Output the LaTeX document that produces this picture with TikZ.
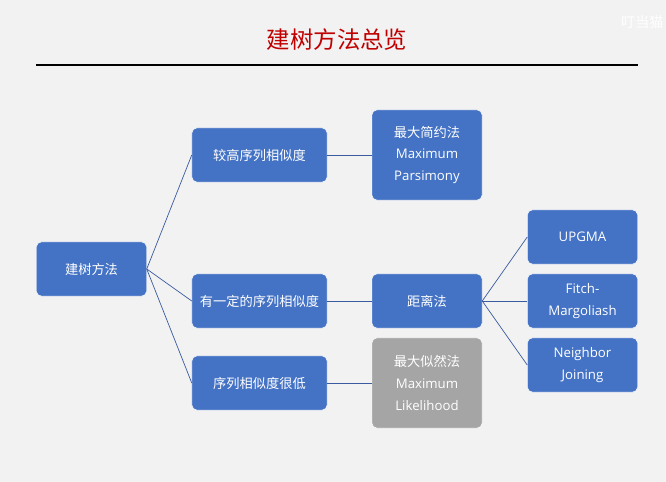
\documentclass[tikz,border=0pt]{standalone}
\usepackage{fontspec}
\setmainfont{Open Sans}
\newfontfamily\cjk{Noto Sans CJK SC}
\definecolor{boxblue}{HTML}{4472C4}
\definecolor{boxgray}{HTML}{A5A5A5}
\definecolor{linkblue}{HTML}{3A5BA0}
\definecolor{titlered}{HTML}{C00000}
\definecolor{pagebg}{HTML}{F2F2F2}

\begin{document}
\begin{tikzpicture}[
        x=0.03cm, y=-0.03cm,
        boxnode/.style={
            rectangle,
            rounded corners=4pt,
            fill=boxblue,
            draw=white,
            line width=0.4pt,
            text=white,
            align=center,
            inner sep=0pt,
            font=\fontsize{11.3}{18.7}\selectfont
        },
        widebox/.style={
            boxnode,
            minimum width=4.05cm,
            minimum height=1.62cm
        },
        smallbox/.style={
            boxnode,
            minimum width=3.3cm,
            minimum height=1.62cm
        },
        tallbox/.style={
            boxnode,
            minimum width=3.3cm,
            minimum height=2.7cm
        },
        link/.style={
            linkblue,
            line width=0.6pt
        }
    ]

        % Page and title
        \fill[pagebg] (0,0) rectangle (666,482);
        \useasboundingbox (0,0) rectangle (666,482);
        \node[font=\cjk\fontsize{20}{22}\selectfont, text=titlered] (title) at (337,40) {建树方法总览};
        \node[font=\cjk\fontsize{12}{14}\selectfont, text=white, anchor=west, inner sep=0pt] (mark) at (621,22) {叮当猫};
        \coordinate (ruleL) at (36,65);
        \coordinate (ruleR) at (638,65);
        \draw[line width=1.5pt] (ruleL) -- (ruleR);

        % Root and similarity level
        \node[smallbox] (root) at (91.5,269) {\cjk 建树方法};
        \node[widebox] (high) at (259.5,155) {\cjk 较高序列相似度};
        \node[widebox] (some) at (259.5,301) {\cjk 有一定的序列相似度};
        \node[widebox] (low) at (259.5,383) {\cjk 序列相似度很低};

        \draw[link] (root.east) -- (high.west);
        \draw[link] (root.east) -- (some.west);
        \draw[link] (root.east) -- (low.west);

        % Methods
        \node[tallbox] (mp) at (427,155) {{\cjk 最大简约法}\\Maximum\\Parsimony};
        \node[smallbox] (dist) at (427,301) {\cjk 距离法};
        \node[tallbox, fill=boxgray] (ml) at (427,383) {{\cjk 最大似然法}\\Maximum\\Likelihood};

        \draw[link] (high.east) -- (mp.west);
        \draw[link] (some.east) -- (dist.west);
        \draw[link] (low.east) -- (ml.west);

        % Distance methods
        \node[smallbox] (upgma) at (582.5,237) {UPGMA};
        \node[smallbox] (fitch) at (582.5,301) {Fitch-\\Margoliash};
        \node[smallbox] (nj) at (582.5,365) {Neighbor\\Joining};

        \draw[link] (dist.east) -- (upgma.west);
        \draw[link] (dist.east) -- (fitch.west);
        \draw[link] (dist.east) -- (nj.west);

    \end{tikzpicture}
\end{document}
